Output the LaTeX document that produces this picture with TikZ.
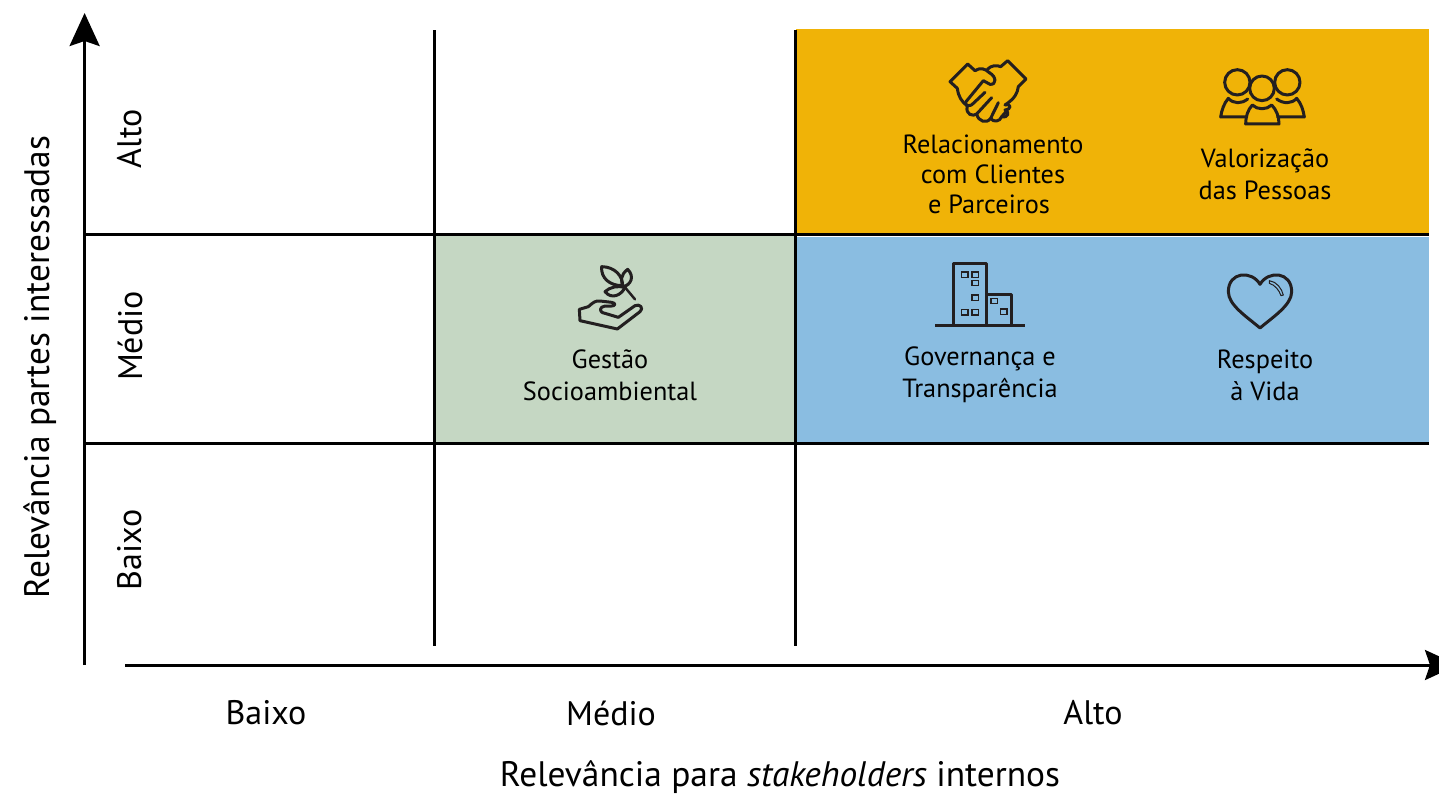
\documentclass[tikz,border=0pt]{standalone}
\usepackage{fontspec}
\setmainfont{PT Sans}
\usetikzlibrary{arrows.meta}
\definecolor{cOrange}{HTML}{F0B307}
\definecolor{cGreen}{HTML}{C5D7C3}
\definecolor{cBlue}{HTML}{8ABDE1}
\definecolor{cIcon}{HTML}{231F20}
\tikzset{
  gridline/.style={line width=3pt,black},
  axisline/.style={line width=3pt,black,-{Stealth[length=33pt,width=30pt,inset=5pt]}},
  cell/.style={fill=#1,draw=none},
  lab/.style={font=\fontsize{26.3}{30}\selectfont,align=center,text=black,inner sep=0pt,anchor=center},
  loose/.style={font=\fontsize{26.3}{32}\selectfont,align=center,text=black,inner sep=0pt,anchor=center},
  axlab/.style={font=\fontsize{35.4}{40}\selectfont,text=black,inner sep=0pt,anchor=center},
  tick/.style={font=\fontsize{34}{40}\selectfont,text=black,inner sep=0pt,anchor=center},
  ico/.style={draw=cIcon,line width=3pt,line join=round,line cap=round},
  icoscope/.style={x=0.3333pt,y=-0.3333pt},
}
\begin{document}
\begin{tikzpicture}[x=1pt,y=-1pt]
\useasboundingbox (0,0) rectangle (1439,796);
\clip (0,0) rectangle (1439,796);
\fill[cell=cOrange] (796,29) rectangle (1429,234);
\fill[cell=cGreen] (435,235) rectangle (795,443);
\fill[cell=cBlue] (796,237) rectangle (1429,443);

\coordinate (v1t) at (434.6,30); \coordinate (v1b) at (434.6,646);
\coordinate (v2t) at (795,30); \coordinate (v2b) at (795,646);
\coordinate (h1l) at (84.6,234); \coordinate (h1r) at (1429,234);
\coordinate (h2l) at (84.6,443); \coordinate (h2r) at (1429,443);
\coordinate (yb) at (84.6,665); \coordinate (yt) at (84.6,13);
\coordinate (xl) at (125,665); \coordinate (xr) at (1458,665);
\draw[gridline] (v1t) -- (v1b);
\draw[gridline] (v2t) -- (v2b);
\draw[gridline] (h1l) -- (h1r);
\draw[gridline] (h2l) -- (h2r);
\draw[axisline] (yb) -- (yt);
\draw[axisline] (xl) -- (xr);

\node[axlab,rotate=90] (ylab) at (40,367) {Relevância partes interessadas};
\node[axlab] (xlab) at (780,777) {Relevância para \textit{stakeholders} internos};
\node[tick,rotate=90] (ya) at (130,139) {Alto};
\node[tick,rotate=90] (ym) at (130,336) {Médio};
\node[tick,rotate=90] (yl) at (130,550) {Baixo};
\node[tick] (xb) at (266,713) {Baixo};
\node[tick] (xm) at (611,713) {Médio};
\node[tick] (xa) at (1093,713) {Alto};

\node[lab] (t1) at (993,174) {Relacionamento\\com Clientes\\\hspace*{-8pt}e Parceiros};
\node[loose] (t2) at (1265,174) {Valorização\\das Pessoas};
\node[loose] (t3) at (610,375) {Gestão\\Socioambiental};
\node[loose] (t4) at (980,375) {Governança e\\Transparência};
\node[loose] (t5) at (1265,375) {Respeito\\à Vida};

% handshake
\begin{scope}[shift={(930,50)},icoscope]
\draw[ico] (82,115) -- (60,95) -- (113,42) -- (135,62) .. controls (150,52) and (165,55) .. (178,68);
\draw[ico] (172,58) .. controls (185,45) and (200,45) .. (212,50) -- (233,32) -- (288,87) -- (265,110) .. controls (262,130) and (255,145) .. (225,165);
\draw[ico] (82,115) .. controls (85,140) and (95,155) .. (112,168);
\draw[ico] (178,68) .. controls (200,80) and (200,105) .. (180,103) -- (160,92) -- (108,155) .. controls (100,170) and (125,170) .. (130,160) -- (165,127);
\draw[ico] (112,168) .. controls (105,195) and (130,200) .. (140,192) -- (185,143);
\draw[ico] (140,192) .. controls (145,215) and (170,222) .. (182,205) -- (205,158);
\draw[ico] (182,205) .. controls (190,218) and (210,215) .. (215,200) -- (228,185);
\draw[ico] (215,200) .. controls (235,205) and (240,185) .. (225,180) .. controls (245,178) and (245,160) .. (225,165);
\end{scope}

% people
\begin{scope}[shift={(1205,55)},icoscope]
\draw[ico] (97,82) circle[radius=38];
\draw[ico] (247,82) circle[radius=38];
\draw[ico] (171,100) circle[radius=37];
\draw[ico] (122,207) -- (222,207) .. controls (222,185) and (215,165) .. (200,150) .. controls (185,165) and (157,165) .. (142,150) .. controls (128,165) and (122,185) .. (122,207) -- cycle;
\draw[ico] (125,186) -- (47,186) .. controls (50,165) and (57,145) .. (70,130) .. controls (85,147) and (110,147) .. (128,132);
\draw[ico] (218,186) -- (298,186) .. controls (295,165) and (288,145) .. (275,130) .. controls (260,147) and (235,147) .. (215,132);
\end{scope}

% building
\begin{scope}[shift={(925,255)},icoscope]
\draw[ico,line cap=butt] (85,212) -- (85,25) -- (185,25) -- (185,212);
\draw[ico,line cap=butt] (185,117) -- (258,117) -- (258,212);
\draw[ico,line cap=butt,line width=3.2pt] (30,212) -- (300,212);
\foreach \wx/\wy in {119/59,151/59,151/84,151/128,119/172,151/172,208/138,236/170}
  \draw[draw=cIcon,line width=1.6pt] (\wx-10,\wy-8) rectangle (\wx+10,\wy+8);
\end{scope}

% heart
\begin{scope}[shift={(1210,260)},icoscope]
\draw[ico] (150,73) .. controls (125,30) and (55,35) .. (55,95) .. controls (55,135) and (110,170) .. (150,204) .. controls (190,170) and (245,135) .. (245,95) .. controls (245,35) and (175,30) .. (150,73) -- cycle;
\draw[draw=cIcon,line width=1pt,line join=round] (178,62) .. controls (200,65) and (215,85) .. (220,105) -- (213,107) .. controls (207,90) and (195,75) .. (178,70) -- cycle;
\end{scope}

% hand and leaves
\begin{scope}[shift={(560,255)},icoscope]
\draw[ico] (125,35) .. controls (165,35) and (190,65) .. (187,92) .. controls (150,92) and (122,70) .. (125,35) -- cycle;
\draw[ico] (203,43) .. controls (180,60) and (182,80) .. (190,95) .. controls (212,90) and (225,65) .. (203,43) -- cycle;
\draw[ico] (135,110) .. controls (150,95) and (175,92) .. (195,97) .. controls (185,120) and (155,135) .. (135,110) -- cycle;
\draw[ico,line width=2.5pt] (195,97) -- (225,133);
\draw[ico] (60,197) -- (58,163) -- (85,155) .. controls (100,142) and (105,137) .. (120,138) -- (155,142) .. controls (170,145) and (165,153) .. (155,153) -- (135,153) .. controls (118,155) and (115,172) .. (135,175) -- (175,187) -- (225,152) .. controls (240,145) and (252,160) .. (240,170) -- (172,222) -- cycle;
\end{scope}
\end{tikzpicture}
\end{document}
